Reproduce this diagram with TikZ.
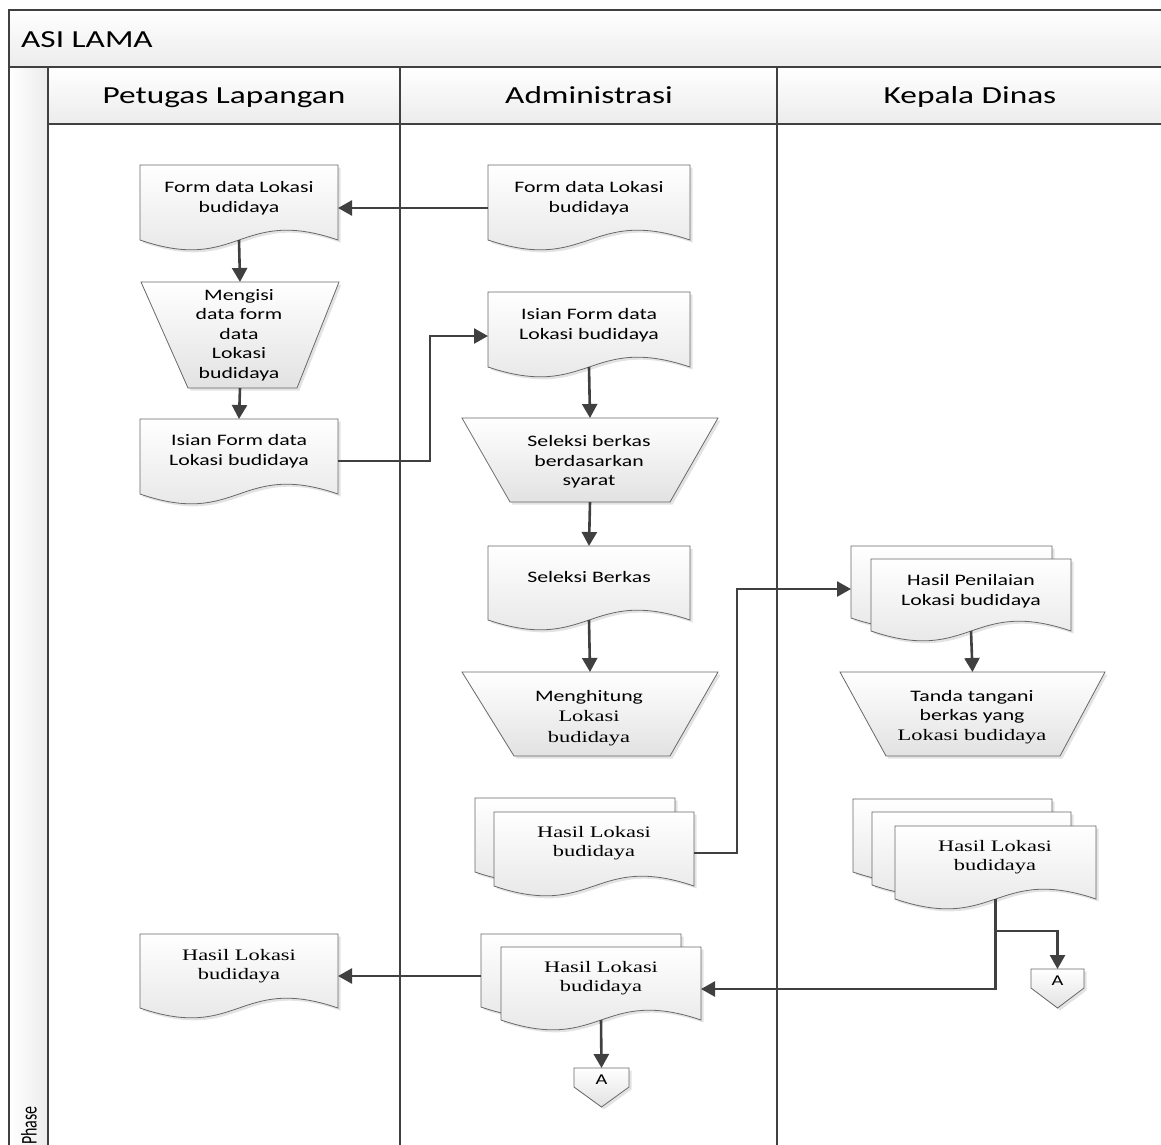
\documentclass[tikz,border=0pt]{standalone}
\usepackage{fontspec}
\setmainfont{Carlito}[FakeStretch=1.36]
\newfontfamily\tms{Liberation Serif}[FakeStretch=1.4]
\newfontfamily\plainfont{Carlito}
\usetikzlibrary{arrows.meta,shadows}
\definecolor{ln}{HTML}{404040}
\definecolor{sb}{HTML}{686868}
\definecolor{sf}{HTML}{E2E2E2}
\definecolor{hd}{HTML}{ECECEC}
\tikzset{
  shp/.style={draw=sb, line width=0.8pt, top color=white, bottom color=sf,
    drop shadow={opacity=0.22, shadow xshift=2.5pt, shadow yshift=-2.5pt}},
  box/.style={inner sep=0pt, outer sep=0pt},
  lbl/.style={align=center, inner sep=0pt, font=\fontsize{16}{19.5}\selectfont},
  conn/.style={draw=ln, line width=2.6pt, -{Triangle[length=14pt,width=15pt]}},
  lane/.style={draw=ln, line width=1.8pt},
  hdr/.style={font=\fontsize{24.5}{28}\selectfont, inner sep=0pt},
}
% document shape: name, L, T, R, yb
\newcommand\docnode[5]{%
  \path[shp] (#2,#3) -- (#4,#3) -- (#4,#5) .. controls ({(#2+#4)/2},{#5-34}) and ({(#2+#4)/2},{#5+34}) .. (#2,#5) -- cycle;
  \node[box, minimum width={(#4-#2)*1pt}, minimum height={(#5-#3)*1pt}] (#1) at ({(#2+#4)/2},{(#3+#5)/2}) {};}
% manual operation: name, T, B, TL, TR, BL, BR
\newcommand\trapnode[7]{%
  \path[shp] (#4,#2) -- (#5,#2) -- (#7,#3) -- (#6,#3) -- cycle;
  \node[box, minimum width={(#5-#4)*1pt}, minimum height={(#3-#2)*1pt}] (#1) at ({(#4+#5)/2},{(#2+#3)/2}) {};}
% off-page connector: name, L, T, R
\newcommand\offnode[4]{%
  \path[shp] (#2,#3) -- (#4,#3) -- (#4,{#3+19}) -- ({(#2+#4)/2},{#3+39}) -- (#2,{#3+19}) -- cycle;
  \node[box, minimum width={(#4-#2)*1pt}, minimum height=39pt] (#1) at ({(#2+#4)/2},{#3+19.5}) {};
  \node[inner sep=0pt, font=\fontsize{15}{17}\selectfont] (#1t) at ({(#2+#4)/2},{#3+12}) {A};}
\begin{document}
\begin{tikzpicture}[x=1pt,y=-1pt]
\useasboundingbox (0,0) rectangle (1161,1144);
\clip (0,0) rectangle (1161,1144);
% pool and lanes
\fill[top color=white, bottom color=hd] (9,10) rectangle (1180,67);
\fill[top color=white, bottom color=hd] (48,67) rectangle (1180,124);
\fill[left color=white, right color=hd] (9,67) rectangle (48,1160);
\draw[lane] (1180,10) -- (9,10) -- (9,1160);
\draw[lane] (9,67) -- (1180,67);
\draw[lane] (48,67) -- (48,1160);
\draw[lane] (48,124) -- (1180,124);
\draw[lane] (400,67) -- (400,1160);
\draw[lane] (777,67) -- (777,1160);
\node[hdr, anchor=base west] (title) at (21,47) {ASI LAMA};
\node[hdr, anchor=base] (h1) at (224,103) {Petugas Lapangan};
\node[hdr, anchor=base] (h2) at (589,103) {Administrasi};
\node[hdr, anchor=base] (h3) at (970,103) {Kepala Dinas};
\node[rotate=90, anchor=west, inner sep=0pt, font=\fontsize{16}{18}\selectfont] (phase) at (29,1145) {\scalebox{1}[1.4]{\plainfont Phase}};
% Petugas Lapangan
\docnode{P1}{140}{165}{338}{240}
\node[lbl] (tP1) at (239,198) {Form data Lokasi\\budidaya};
\trapnode{P2}{282}{388}{141}{339}{188}{297}
\node[lbl] (tP2) at (239,335) {Mengisi\\data form\\data\\Lokasi\\budidaya};
\docnode{P3}{140}{419}{338}{494}
\node[lbl] (tP3) at (239,451) {Isian Form data\\Lokasi budidaya};
\docnode{P4}{140}{934}{338}{1008}
\node[lbl] (tP4) at (239,966) {\tms Hasil Lokasi\\\tms budidaya};
% Administrasi
\docnode{A1}{488}{165}{690}{240}
\node[lbl] (tA1) at (589,198) {Form data Lokasi\\budidaya};
\docnode{A2}{488}{292}{690}{367}
\node[lbl] (tA2) at (589,325) {Isian Form data\\Lokasi budidaya};
\trapnode{A3}{418}{502}{462}{718}{510}{670}
\node[lbl] (tA3) at (589,462) {Seleksi berkas\\berdasarkan\\syarat};
\docnode{A4}{488}{546}{690}{620}
\node[lbl] (tA4) at (589,577) {Seleksi Berkas};
\trapnode{A5}{672}{756}{462}{718}{514}{670}
\node[lbl, font=\fontsize{16}{20.5}\selectfont] (tA5) at (589,718) {Menghitung\\\tms Lokasi\\\tms budidaya};
\docnode{A6b}{475}{798}{675}{872}
\docnode{A6}{494}{812}{694}{886}
\node[lbl] (tA6) at (594,843) {\tms Hasil Lokasi\\\tms budidaya};
\docnode{A7b}{481}{934}{681}{1007}
\docnode{A7}{501}{947}{701}{1020}
\node[lbl] (tA7) at (601,978) {\tms Hasil Lokasi\\\tms budidaya};
\offnode{A8}{574}{1068}{629}
% Kepala Dinas
\docnode{K1b}{851}{546}{1052}{618}
\docnode{K1}{871}{559}{1071}{631}
\node[lbl] (tK1) at (971,591) {Hasil Penilaian\\Lokasi budidaya};
\trapnode{K2}{672}{756}{840}{1105}{886}{1060}
\node[lbl] (tK2) at (972,717) {Tanda tangani\\berkas yang\\\tms Lokasi budidaya};
\docnode{K3bb}{853}{799}{1052}{872}
\docnode{K3b}{872}{812}{1071}{885}
\docnode{K3}{895}{826}{1096}{899}
\node[lbl] (tK3) at (995,857) {\tms Hasil Lokasi\\\tms budidaya};
\offnode{K4}{1031}{969}{1084}
% connectors
\draw[conn] ([yshift=-5.5pt]A1.west) -- ([yshift=-5.5pt]P1.east);
\draw[conn] (P1.south) -- (P2.north);
\draw[conn] (P2.south) -- (P3.north);
\draw[conn] ([yshift=-4.5pt]P3.east) -- ++(92,0) |- ([yshift=-6.5pt]A2.west);
\draw[conn] (A2.south) -- (A3.north);
\draw[conn] (A3.south) -- (A4.north);
\draw[conn] (A4.south) -- (A5.north);
\draw[conn] ([yshift=-4pt]A6.east) -- ++(43,0) |- ([yshift=-7pt]K1b.west);
\draw[conn] (K1.south) -- (K2.north);
\path (K3.south) ++(0,32) coordinate (kj);
\draw[conn] (K3.south) -- (kj) -| (K4.north);
\draw[conn] (kj) |- ([yshift=-5.5pt]A7.east);
\draw[conn] ([yshift=-5.5pt]A7b.west) -- ([yshift=-5pt]P4.east);
\draw[conn] (A7.south) -- (A8.north);
\end{tikzpicture}
\end{document}
